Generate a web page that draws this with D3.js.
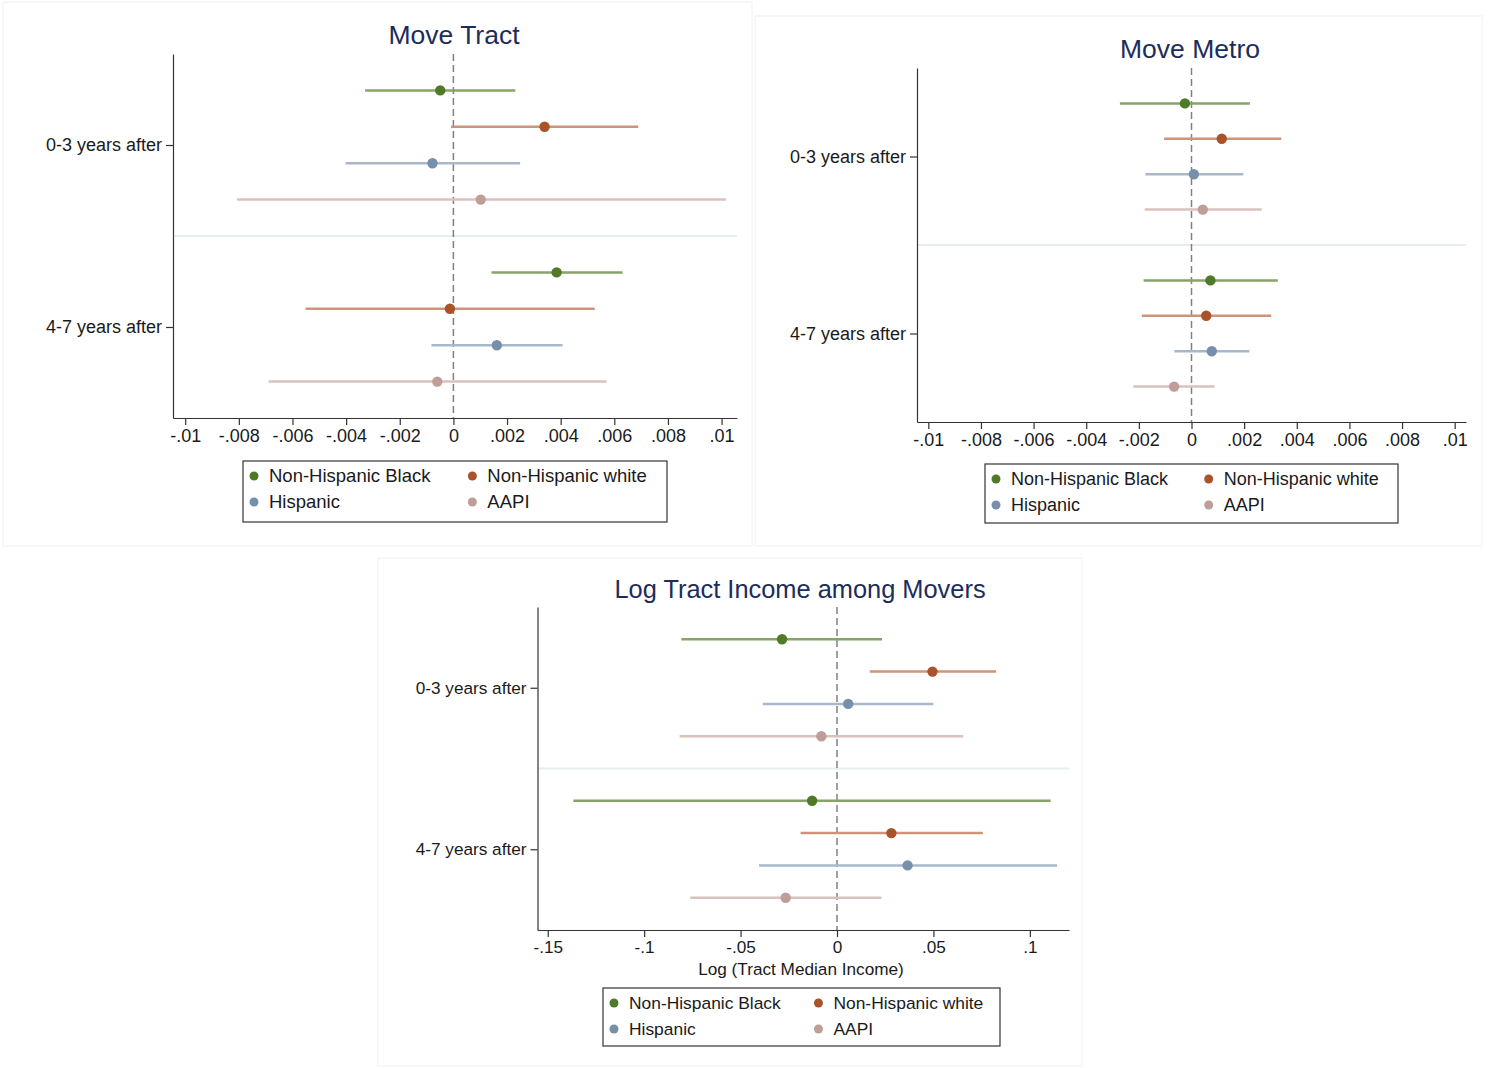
<!DOCTYPE html>
<html>
<head>
<meta charset="utf-8">
<script src="https://cdn.jsdelivr.net/npm/d3@7"></script>
<style>
  body { margin: 0; background: #fff; }
  svg text { font-family: "Liberation Sans", Arial, sans-serif; }
</style>
</head>
<body>
<div id="chart"></div>
<script>
const groups = ["Non-Hispanic Black", "Non-Hispanic white", "Hispanic", "AAPI"];
const periods = ["0-3 years after", "4-7 years after"];
const pointColors = ["#4f7a28", "#a9532b", "#7690ab", "#bf9d98"];
const ciColors = ["#86a468", "#cf937a", "#a7b8ca", "#d8c2be"];

// estimates ordered: 0-3 (Black, white, Hispanic, AAPI), then 4-7 (same order)
const tractEst = [-0.00049, 0.0034, -0.00078, 0.00102, 0.00385, -0.00013, 0.00162, -0.0006];
const tractLo  = [-0.00329, -0.00009, -0.00402, -0.00807, 0.00142, -0.00551, -0.00082, -0.00689];
const tractHi  = [0.00231, 0.00689, 0.00249, 0.01016, 0.00631, 0.00527, 0.00407, 0.00571];

const metroEst = [-0.00025, 0.00115, 0.00009, 0.00043, 0.00072, 0.00056, 0.00077, -0.00066];
const metroLo  = [-0.00272, -0.00104, -0.00175, -0.00178, -0.00182, -0.00189, -0.00065, -0.00221];
const metroHi  = [0.00222, 0.00341, 0.00197, 0.00267, 0.00328, 0.00303, 0.0022, 0.00088];

const incomeEst = [-0.0285, 0.0495, 0.0058, -0.0081, -0.0129, 0.0282, 0.0366, -0.0266];
const incomeLo  = [-0.0807, 0.017, -0.0385, -0.0816, -0.1367, -0.0189, -0.0404, -0.0761];
const incomeHi  = [0.0234, 0.0825, 0.05, 0.0655, 0.1108, 0.0756, 0.1141, 0.023];

const smallTicks = [-0.01, -0.008, -0.006, -0.004, -0.002, 0, 0.002, 0.004, 0.006, 0.008, 0.01];
const smallTickLabels = ["-.01", "-.008", "-.006", "-.004", "-.002", "0", ".002", ".004", ".006", ".008", ".01"];
const incomeTicks = [-0.15, -0.1, -0.05, 0, 0.05, 0.1];
const incomeTickLabels = ["-.15", "-.1", "-.05", "0", ".05", ".1"];

let svg = d3.select('#chart')
  .append('svg')
  .attr('width', 1490)
  .attr('height', 1068);

function drawPanel(p) {
  // faint panel frame
  svg.append('rect')
    .attr('x', p.box[0]).attr('y', p.box[1])
    .attr('width', p.box[2] - p.box[0]).attr('height', p.box[3] - p.box[1])
    .attr('fill', '#fff')
    .attr('stroke', '#f0f0f0');

  let xscale = d3.scaleLinear()
    .domain(p.xdomain)
    .range([p.left, p.right]);

  let yscale = d3.scaleLinear()
    .domain([0, 10])
    .range([p.top, p.bottom]);

  let rows = [];
  p.est.forEach(function(e, i) {
    let per = Math.floor(i / 4), g = i % 4;
    rows.push({ g: g, pos: per * 5 + g + 1, est: e, lo: p.lo[i], hi: p.hi[i] });
  });

  // separator between the two periods
  svg.append('line')
    .attr('x1', p.left).attr('x2', p.right)
    .attr('y1', yscale(5)).attr('y2', yscale(5))
    .attr('stroke', '#e5eef1')
    .attr('stroke-width', 2);

  // zero line
  svg.append('line')
    .attr('x1', xscale(0)).attr('x2', xscale(0))
    .attr('y1', p.top).attr('y2', p.bottom)
    .attr('stroke', '#808080')
    .attr('stroke-width', 1.5)
    .attr('stroke-dasharray', '7,4');

  svg.append('g')
    .selectAll('line')
    .data(rows)
    .join('line')
    .attr('x1', d => xscale(d.lo))
    .attr('x2', d => xscale(d.hi))
    .attr('y1', d => yscale(d.pos))
    .attr('y2', d => yscale(d.pos))
    .attr('stroke', d => ciColors[d.g])
    .attr('stroke-width', 2.5);

  svg.append('g')
    .selectAll('circle')
    .data(rows)
    .join('circle')
    .attr('cx', d => xscale(d.est))
    .attr('cy', d => yscale(d.pos))
    .attr('r', 5.2)
    .attr('fill', d => pointColors[d.g]);

  let yaxis = svg.append('g')
    .attr('transform', `translate(${p.left},0)`)
    .call(d3.axisLeft(yscale)
      .tickValues([2.5, 7.5])
      .tickFormat((d, i) => periods[i])
      .tickSize(7)
      .tickSizeOuter(0)
      .tickPadding(4));

  let xaxis = svg.append('g')
    .attr('transform', `translate(0,${p.bottom})`)
    .call(d3.axisBottom(xscale)
      .tickValues(p.ticks)
      .tickFormat((d, i) => p.tickLabels[i])
      .tickSize(7)
      .tickSizeOuter(0)
      .tickPadding(4));

  [yaxis, xaxis].forEach(function(a) {
    a.selectAll('path,line').attr('stroke', '#333').attr('stroke-width', 1.2);
    a.selectAll('text')
      .attr('fill', '#1a1a1a')
      .style('font-size', p.fontSize + 'px');
  });

  svg.append('text')
    .attr('x', p.titleX)
    .attr('y', p.titleY)
    .attr('text-anchor', 'middle')
    .attr('fill', '#1c2c5b')
    .style('font-size', p.titleSize + 'px')
    .text(p.title);

  if (p.xlabel) {
    svg.append('text')
      .attr('x', p.xlabelX)
      .attr('y', p.xlabelY)
      .attr('text-anchor', 'middle')
      .attr('fill', '#1a1a1a')
      .style('font-size', p.fontSize + 'px')
      .text(p.xlabel);
  }

  // legend
  let lg = p.legend;
  svg.append('rect')
    .attr('x', lg[0]).attr('y', lg[1])
    .attr('width', lg[2] - lg[0]).attr('height', lg[3] - lg[1])
    .attr('fill', 'none')
    .attr('stroke', '#333')
    .attr('stroke-width', 1.2);

  let colW = (lg[2] - lg[0]) * 0.515;
  groups.forEach(function(name, i) {
    let cx = lg[0] + 11 + (i % 2) * colW;
    let cy = lg[1] + 15 + Math.floor(i / 2) * 26;
    svg.append('circle')
      .attr('cx', cx).attr('cy', cy)
      .attr('r', 4.5)
      .attr('fill', pointColors[i]);
    svg.append('text')
      .attr('x', cx + 15).attr('y', cy + 6)
      .attr('fill', '#1a1a1a')
      .style('font-size', p.legendSize + 'px')
      .text(name);
  });
}

drawPanel({
  title: 'Move Tract', titleX: 454, titleY: 44, titleSize: 26.5,
  box: [3, 2, 752, 546],
  left: 173, right: 737, top: 54, bottom: 418,
  xdomain: [-0.010455, 0.010575],
  est: tractEst, lo: tractLo, hi: tractHi,
  ticks: smallTicks, tickLabels: smallTickLabels,
  fontSize: 18, legendSize: 18.5,
  legend: [243, 461, 667, 522]
});

drawPanel({
  title: 'Move Metro', titleX: 1190, titleY: 58, titleSize: 26.5,
  box: [755, 16, 1482, 546],
  left: 917, right: 1466, top: 68, bottom: 422,
  xdomain: [-0.01043, 0.01043],
  est: metroEst, lo: metroLo, hi: metroHi,
  ticks: smallTicks, tickLabels: smallTickLabels,
  fontSize: 18, legendSize: 18,
  legend: [985, 464, 1398, 523]
});

drawPanel({
  title: 'Log Tract Income among Movers', titleX: 800, titleY: 598, titleSize: 25.4,
  box: [378, 558, 1082, 1066],
  left: 537.5, right: 1069, top: 607, bottom: 930,
  xdomain: [-0.1553, 0.1203],
  est: incomeEst, lo: incomeLo, hi: incomeHi,
  ticks: incomeTicks, tickLabels: incomeTickLabels,
  fontSize: 17.2, legendSize: 17.4,
  xlabel: 'Log (Tract Median Income)', xlabelX: 801, xlabelY: 975,
  legend: [603, 988, 1000, 1046]
});
</script>
</body>
</html>
